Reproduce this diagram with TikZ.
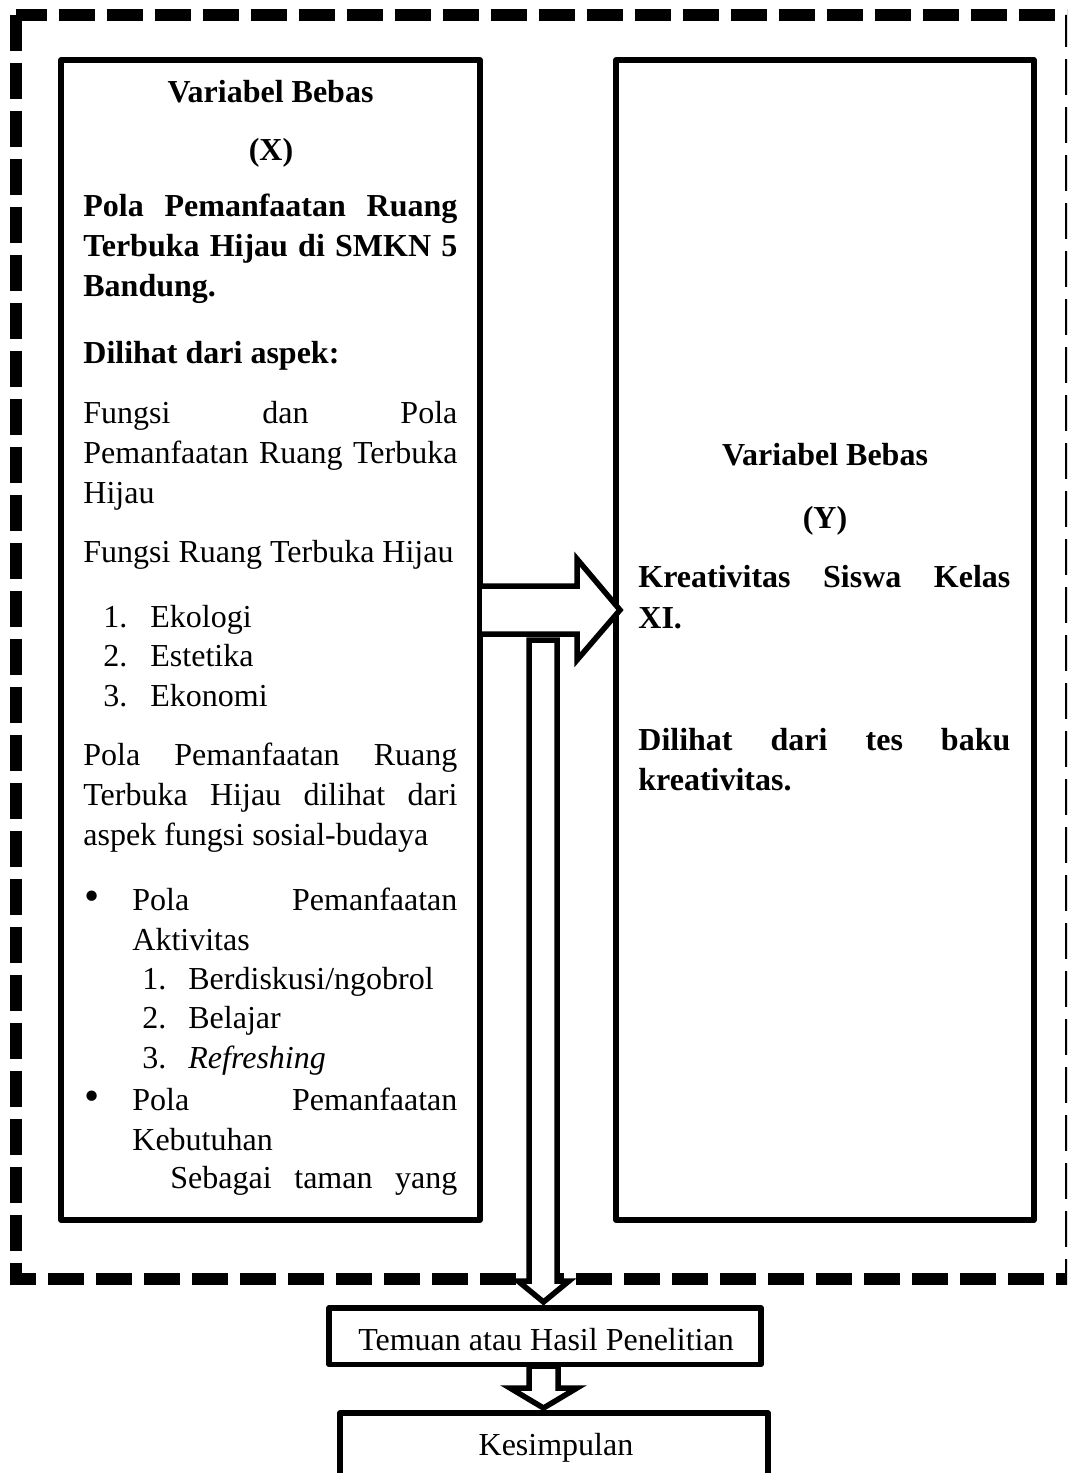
\documentclass[tikz,border=0pt]{standalone}
\usepackage{fontspec}
\setmainfont{Liberation Serif}
\newlength\pxu \setlength\pxu{0.5pt}
\newcommand\J[2]{\makebox[#1\pxu][s]{#2}}
\begin{document}
\begin{tikzpicture}[x=0.5pt,y=-0.5pt,
  tx/.style={anchor=base west,inner sep=0pt,font=\fontsize{16pt}{19.85pt}\selectfont},
  tc/.style={anchor=base,inner sep=0pt,font=\fontsize{16pt}{19.85pt}\selectfont},
  bx/.style={draw=black,line width=2.75pt,line join=round},
  arr/.style={draw=black,fill=white,line width=2.75pt,line join=miter},
  dashbox/.style={draw=black,line width=6pt,dash pattern=on 18pt off 6pt}]
\useasboundingbox (0,0) rectangle (1067,1473);
\clip (0,0) rectangle (1067,1473);
% dashed frame
\draw[dashbox] (15.5,15) rectangle (1071,1279);
% boxes
\draw[bx] (61,60) rectangle (480,1220);
\draw[bx] (616,60) rectangle (1034,1220);
\draw[bx] (329,1308) rectangle (761,1364.5);
\draw[bx] (340,1413) rectangle (768,1500);
% block arrows
\draw[arr] (482,586) -- (577,586) -- (577,559) -- (620,610) -- (577,660) -- (577,634) -- (482,634);
\draw[arr] (529,640) -- (557,640) -- (557,1281) -- (569,1281) -- (543.5,1302) -- (518,1281) -- (529,1281) -- cycle;
\draw[arr] (529,1366) -- (558,1366) -- (558,1388) -- (577,1388) -- (543.5,1408) -- (510,1388) -- (529,1388) -- cycle;
% left column text
\node[tc] (lh1) at (270.5,102.7) {\bfseries Variabel Bebas};
\node[tc] (lh2) at (271,160) {\bfseries (X)};
\node[tx] (l3) at (83,216.7) {\bfseries\J{374}{Pola Pemanfaatan Ruang}};
\node[tx] (l4) at (83,256.7) {\bfseries\J{374}{Terbuka Hijau di SMKN 5}};
\node[tx] (l5) at (83,296.7) {\bfseries Bandung.};
\node[tx] (l6) at (83,363) {\bfseries Dilihat dari aspek:};
\node[tx] (l7) at (83,423) {\J{374}{Fungsi dan Pola}};
\node[tx] (l8) at (83,463) {\J{374}{Pemanfaatan Ruang Terbuka}};
\node[tx] (l9) at (83,503) {Hijau};
\node[tx] (l10) at (83,562) {Fungsi Ruang Terbuka Hijau};
\node[tx] (n1) at (103,627) {1.};
\node[tx] (e1) at (150,627) {Ekologi};
\node[tx] (n2) at (103,666) {2.};
\node[tx] (e2) at (150,666) {Estetika};
\node[tx] (n3) at (103,706) {3.};
\node[tx] (e3) at (150,706) {Ekonomi};
\node[tx] (l14) at (83,765) {\J{374}{Pola Pemanfaatan Ruang}};
\node[tx] (l15) at (83,805) {\J{374}{Terbuka Hijau dilihat dari}};
\node[tx] (l16) at (83,845) {aspek fungsi sosial-budaya};
\node[tx] (b1) at (84,910) {\scalebox{1.35}{•}};
\node[tx] (l17) at (132,910) {\J{325}{Pola Pemanfaatan}};
\node[tx] (l18) at (132,950) {Aktivitas};
\node[tx] (m1) at (142,989) {1.};
\node[tx] (a1) at (188,989) {Berdiskusi/ngobrol};
\node[tx] (m2) at (142,1028) {2.};
\node[tx] (a2) at (188,1028) {Belajar};
\node[tx] (m3) at (142,1068) {3.};
\node[tx] (a3) at (188,1068) {\itshape Refreshing};
\node[tx] (b2) at (84,1110) {\scalebox{1.35}{•}};
\node[tx] (l19) at (132,1110) {\J{325}{Pola Pemanfaatan}};
\node[tx] (l20) at (132,1150) {Kebutuhan};
\node[tx] (l21) at (170,1188) {\J{287}{Sebagai taman yang}};
% right column text
\node[tc] (rh1) at (825,465) {\bfseries Variabel Bebas};
\node[tc] (rh2) at (825,528) {\bfseries (Y)};
\node[tx] (r3) at (638,587) {\bfseries\J{372}{Kreativitas Siswa Kelas}};
\node[tx] (r4) at (638,628) {\bfseries XI.};
\node[tx] (r5) at (638,750) {\bfseries\J{372}{Dilihat dari tes baku}};
\node[tx] (r6) at (638,790) {\bfseries kreativitas.};
% bottom
\node[tc] (tem) at (546,1350) {Temuan atau Hasil Penelitian};
\node[tc] (kes) at (556,1455) {Kesimpulan};
\end{tikzpicture}
\end{document}
